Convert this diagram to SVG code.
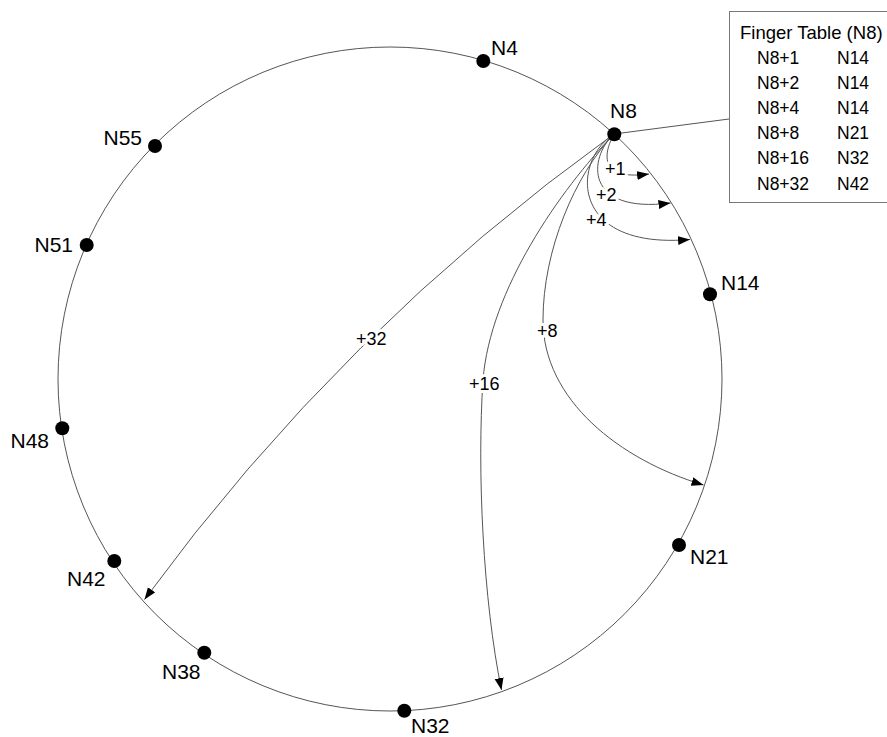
<svg xmlns="http://www.w3.org/2000/svg" width="887" height="737" viewBox="0 0 887 737">
  <style>
    .ring { fill: none; stroke: #555; stroke-width: 1; }
    .edge { fill: none; stroke: #555; stroke-width: 1; }
    .dot { fill: #000; }
    .name { font-family: "Liberation Sans", Arial, sans-serif; font-size: 21px; fill: #000; }
    .hop { font-family: "Liberation Sans", Arial, sans-serif; font-size: 18px; fill: #000;
           stroke: #fff; stroke-width: 6px; stroke-linejoin: round; paint-order: stroke; }
    .tbl { font-family: "Liberation Sans", Arial, sans-serif; font-size: 17.5px; fill: #000; }
    .box { fill: #fff; stroke: #777; stroke-width: 1; }
  </style>
  <defs>
    <marker id="arrow" markerUnits="userSpaceOnUse" markerWidth="13" markerHeight="10" refX="12" refY="4.5" orient="auto">
      <path d="M0,0 L12,4.5 L0,9 Z" fill="#000"/>
    </marker>
  </defs>

  <rect width="887" height="737" fill="#fff"/>

  <!-- identifier ring -->
  <circle class="ring" cx="390" cy="379" r="332"/>

  <!-- finger pointers from N8 and the table callout -->
  <g id="connectors">
    <line class="edge" x1="614" y1="134" x2="729" y2="119"/>
    <path class="edge" marker-end="url(#arrow)" d="M614,134 C600,160 605,180 649,174"/>
    <path class="edge" marker-end="url(#arrow)" d="M614,134 C588,158 584,214 670.5,203"/>
    <path class="edge" marker-end="url(#arrow)" d="M614,134 C572,160 568,250 690,239.5"/>
    <path class="edge" marker-end="url(#arrow)" d="M614,134 C575,175 543,250 543,320 C543,400 620,460 703.5,485"/>
    <path class="edge" marker-end="url(#arrow)" d="M614,134 C560,190 490,290 483,380 C477,470 483,600 501.5,690"/>
    <path class="edge" marker-end="url(#arrow)" d="M614,134 Q342,329.5 144.5,599.5"/>
    <text class="hop" x="605" y="174.5">+1</text>
    <text class="hop" x="596" y="201">+2</text>
    <text class="hop" x="586" y="226">+4</text>
    <text class="hop" x="537" y="337">+8</text>
    <text class="hop" x="469" y="389.5">+16</text>
    <text class="hop" x="356" y="344.5">+32</text>
  </g>

  <!-- ring members -->
  <g id="N4"><circle class="dot" cx="483.3" cy="61" r="7"/><text class="name" x="491" y="55">N4</text></g>
  <g id="N8"><circle class="dot" cx="614.3" cy="134.3" r="7"/><text class="name" x="610" y="118">N8</text></g>
  <g id="N14"><circle class="dot" cx="710" cy="294.3" r="7"/><text class="name" x="721" y="290">N14</text></g>
  <g id="N21"><circle class="dot" cx="679" cy="545" r="7"/><text class="name" x="690" y="564">N21</text></g>
  <g id="N32"><circle class="dot" cx="404.3" cy="710.7" r="7"/><text class="name" x="411" y="733">N32</text></g>
  <g id="N38"><circle class="dot" cx="204.3" cy="652.7" r="7"/><text class="name" x="162" y="679">N38</text></g>
  <g id="N42"><circle class="dot" cx="114.3" cy="561" r="7"/><text class="name" x="67" y="586">N42</text></g>
  <g id="N48"><circle class="dot" cx="62.3" cy="428.3" r="7"/><text class="name" x="49" y="448" text-anchor="end">N48</text></g>
  <g id="N51"><circle class="dot" cx="86.7" cy="245" r="7"/><text class="name" x="73" y="252" text-anchor="end">N51</text></g>
  <g id="N55"><circle class="dot" cx="155" cy="146" r="7"/><text class="name" x="142" y="145" text-anchor="end">N55</text></g>

  <!-- finger table of N8 -->
  <g id="finger-table">
    <rect class="box" x="729.5" y="11.5" width="170" height="191"/>
    <text class="tbl" x="740" y="39" style="font-size:18.5px">Finger Table (N8)</text>
    <text class="tbl" x="757" y="63.5">N8+1</text><text class="tbl" x="837" y="63.5">N14</text>
    <text class="tbl" x="757" y="88.5">N8+2</text><text class="tbl" x="837" y="88.5">N14</text>
    <text class="tbl" x="757" y="113.5">N8+4</text><text class="tbl" x="837" y="113.5">N14</text>
    <text class="tbl" x="757" y="138.5">N8+8</text><text class="tbl" x="837" y="138.5">N21</text>
    <text class="tbl" x="757" y="164">N8+16</text><text class="tbl" x="837" y="164">N32</text>
    <text class="tbl" x="757" y="190">N8+32</text><text class="tbl" x="837" y="190">N42</text>
  </g>
</svg>
